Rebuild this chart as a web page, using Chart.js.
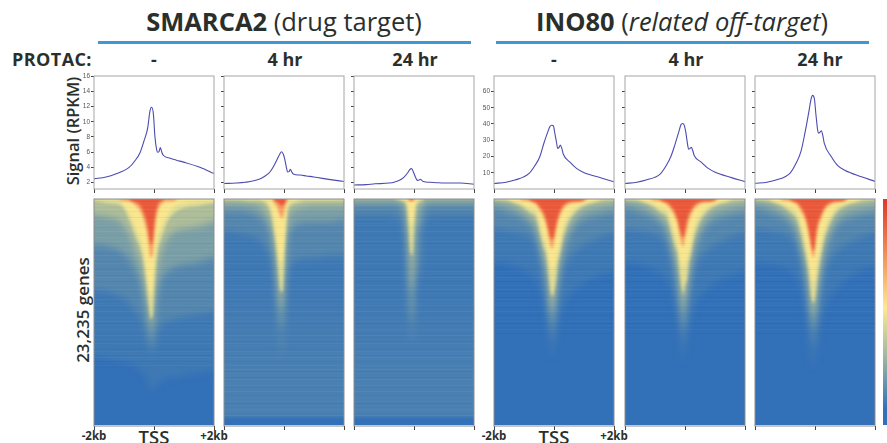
<!DOCTYPE html>
<html>
<head>
<meta charset="utf-8">
<script src="https://cdn.jsdelivr.net/npm/chart.js@4/dist/chart.umd.min.js"></script>
<style>
html, body { margin: 0; padding: 0; background: #fff; overflow: hidden; }
#page { position: relative; width: 887px; height: 443px; overflow: hidden; font-family: "Open Sans", sans-serif; color: #2b2f2c; }
#page canvas { position: absolute; }
.clip { position: absolute; overflow: hidden; }
.t { position: absolute; white-space: nowrap; transform: translate(-50%, -50%); }
.rule { position: absolute; top: 41px; height: 3px; background: #3f97d3; }
.head { font-size: 25.5px; font-weight: 400; }
.head b { font-weight: 700; }
.time { font-size: 18px; font-weight: 700; }
.side { font-size: 16.5px; font-weight: 600; transform: translate(-50%, -50%) rotate(-90deg); }
.genes { font-size: 17px; }
.kb { font-size: 11.5px; font-weight: 700; }
.tss { font-size: 18.5px; font-weight: 600; }
</style>
</head>
<body>
<div id="page">
  <div class="t head" style="left:284px;top:21px"><b>SMARCA2</b> <span>(drug target)</span></div>
  <div class="t head" style="left:682px;top:21px"><b>INO80</b> <span>(<i>related off-target</i>)</span></div>
  <div class="rule" style="left:98px;width:373px"></div>
  <div class="rule" style="left:496px;width:373px"></div>
  <div class="t time" style="left:52px;top:59px;letter-spacing:.4px">PROTAC:</div>
  <div class="t time" style="left:154px;top:59px">-</div>
  <div class="t time" style="left:285px;top:59px">4 hr</div>
  <div class="t time" style="left:415px;top:59px">24 hr</div>
  <div class="t time" style="left:554px;top:59px">-</div>
  <div class="t time" style="left:686px;top:59px">4 hr</div>
  <div class="t time" style="left:820px;top:59px">24 hr</div>
  <div class="t side" style="left:72px;top:131px">Signal (RPKM)</div>
  <div class="t side genes" style="left:82px;top:310px">23,235 genes</div>
  <div class="t kb" style="left:94px;top:435px">-2kb</div>
  <div class="t tss" style="left:154px;top:436px">TSS</div>
  <div class="t kb" style="left:214px;top:435px">+2kb</div>
  <div class="t kb" style="left:494px;top:435px">-2kb</div>
  <div class="t tss" style="left:554px;top:436px">TSS</div>
  <div class="t kb" style="left:614px;top:435px">+2kb</div>
</div>
<script>
// positions along the gene window, in bp from the TSS
const signalBins = [-2000,-1600,-1300,-830,-640,-470,-340,-210,-135,-80,-20,30,90,120,170,210,260,310,540,750,990,1550,2000];
const heatBins = [-2000,-1500,-1100,-800,-600,-450,-350,-250,-180,-110,-50,0,60,120,200,300,450,700,1000,1500,2000];
const edgeTicks = [-2000,0,2000];

// mean signal (RPKM)
const smarca2None = [2.5,2.75,3.1,4.0,4.85,5.9,7.4,9.2,11.4,11.9,11.0,8.1,6.3,6.0,6.1,6.6,6.0,5.6,5.2,4.95,4.7,4.0,3.2];
const smarca24hr = [1.9,1.95,2.05,2.45,2.85,3.4,4.2,5.2,5.8,6.05,5.7,5.0,3.8,3.4,3.45,3.75,3.4,3.15,3.0,2.88,2.75,2.4,2.15];
const smarca224hr = [1.7,1.75,1.85,1.95,2.1,2.35,2.7,3.3,3.75,3.85,3.4,2.9,2.4,2.3,2.35,2.45,2.3,2.15,2.05,2.0,1.95,1.95,1.8];
const ino80None = [3.4,4.2,5.5,9.6,14.3,20,28,35,38.4,39.2,38.8,34,28,25,25.6,27,25,21.4,16.4,12.7,10.2,6.9,4.4];
const ino804hr = [3.4,4.2,5.5,9.2,14,20,27,35,39.5,40.3,39,34.5,27,24.5,25,25.6,23.5,20.5,16.5,13,10.5,7,4.5];
const ino8024hr = [3.5,4.2,5.5,9.8,15.5,23,34,47,55,57.6,55.5,46,36,34.3,35,35.8,33,28,20,14.5,11.5,7.5,4.7];

const smarcaTicks = [2,4,6,8,10,12,14,16];
const inoTicks = [10,20,30,40,50,60];

// heatmap colour levels, weakest to strongest
const baseColor = '#3270b8';
const levelColors = ['#3f79b4','#5587ae','#7b9fa6','#aebd9a','#e0dc95','#f9e68f','#f5a063','#e95a3c'];

// how far down (% of the sorted genes) each colour level reaches at each heatBins position
const heatS0 = [
  [70,71,72,73,74,76,77,79,82,85,85,84,83,82,81,80,79,79,78,77,76],
  [40,41,43,46,50,53,56,60,64,68,68,66,62,58,56,55,54,53,52,51,50],
  [20,21,23,27,32,36,42,48,54,63,62,54,46,41,37,34,32,30,29,28,26],
  [7,8,10,16,23,28,34,43,50,57,56,47,36,30,25,21,17,14,13,12,10],
  [1,2,3,10,17,22,28,38,46,53,52,42,30,23,19,15,10,6,4,3,2],
  [0,0,1,7,13,18,24,32,38,42,40,33,24,17,14,11,7,3,2,1,1],
  [0,0,0.5,1,3,5.5,9,14,20,26,25,18,10,6,3,1.5,1,0.7,0,0,0],
  [0,0,0,0.5,1.5,3,6,10,15,20,19,13,6,3,1,0.5,0,0,0,0,0]
];
const heatS4 = [
  [110,110,110,110,110,110,110,110,110,110,110,110,110,110,110,110,110,110,110,110,110],
  [14,15,16,18,22,26,32,46,60,68,70,62,42,34,30,28,27,26,26,25,25],
  [5,5,6,8,11,15,22,35,50,56,56,44,25,17,14,12,11,10,10,10,9],
  [1.5,1.5,2,3,6,10,17,28,40,48,48,36,19,10,6,5,4,3.5,3,3,3],
  [0.5,0.5,1,1,2,6,13,23,33,41,41,30,15,6,3,2,1.5,1,1,1,1],
  [0,0,0,0.3,1,3,8,16,24,28,27,22,11,3,1,0.7,0.5,0,0,0,0],
  [0,0,0,0,0,0,1,3,5.5,8,8.5,6,2,0.5,0,0,0,0,0,0,0],
  [0,0,0,0,0,0,0.3,1,2,3,3,2.5,0.7,0,0,0,0,0,0,0,0]
];
const heatS24 = [
  [110,110,110,110,110,110,110,110,110,110,110,110,110,110,110,110,110,110,110,110,110],
  [7,7,7,7,8,9,13,22,48,62,64,56,38,32,34,12,8,7,7,7,7],
  [2,2,2,2,2,3,5,12,36,52,54,44,18,12,12,5,2,2,2,2,2],
  [1,1,1,1,1,1,2,7,22,38,40,28,10,5,3,2,1,1,1,1,1],
  [0,0,0,0,0.2,0.5,1,3,12,24,25,14,4,2,1,0.5,0,0,0,0,0],
  [0,0,0,0,0,0.3,0.8,1.5,5,11,11,7,2,0.5,0,0,0,0,0,0,0],
  [0,0,0,0,0,0,0,0,0.3,0.8,0.8,0.4,0,0,0,0,0,0,0,0,0],
  [0,0,0,0,0,0,0,0,0.2,0.4,0.4,0.2,0,0,0,0,0,0,0,0,0]
];
const heatI0 = [
  [28,29,31,33,36,40,46,52,60,68,70,68,62,56,52,48,44,40,37,34,32],
  [13,14,15,17,20,27,34,42,52,60,63,60,53,44,38,32,27,23,20,17,15],
  [4,6,8,11,15,23,30,36,46,54,56,53,46,38,31,24,18,12,9,7,6],
  [1,2,5,8,11,19,25,30,39,48,50,47,41,33,27,20,14,8,5,3,2],
  [0.5,1,3,6,8,16,21,25,33,41,43,41,36,29,24,17,11,6,3,1,0.5],
  [0,0.5,2,4,5,12,17,20,27,30,32,30,28,24,20,13,8,4,2,0.5,0],
  [0,0,0.3,1,2.5,5.5,8,12,17,21,22,19,15,11,7.5,4.5,2.5,1.5,0.7,0,0],
  [0,0,0,0.7,1.5,4,6,10,14,17,18,16,12,8.5,5.5,3,1.5,1,0.5,0,0]
];
const heatI4 = [
  [28,29,31,33,36,40,46,52,60,68,72,68,62,56,52,48,44,40,37,34,32],
  [13,14,15,17,20,27,34,42,52,60,64,60,53,44,38,32,27,23,20,17,15],
  [4,6,8,11,15,23,30,36,46,54,57,53,46,38,31,24,18,12,9,7,6],
  [1,2,5,8,11,18,24,29,38,46,50,45,41,33,27,20,14,8,5,3,2],
  [0.5,1,3,6,8,15,20,24,32,39,42,38,36,29,24,17,11,6,3,1,0.5],
  [0,0.5,2,4,5,11,15,19,26,29,31,28,28,24,20,13,8,4,2,0.5,0],
  [0,0,0.3,1,2.5,5,7.5,11,16,20,21,17,14,10,7,4.5,2.5,1.5,0.7,0,0],
  [0,0,0,0.7,1.5,3.5,5.5,9,13,16,17,14,10,7,5,3,1.5,1,0.5,0,0]
];
const heatI24 = [
  [28,29,30,32,35,40,47,54,64,72,74,71,66,58,54,50,45,40,36,32,30],
  [13,14,15,17,21,28,35,45,55,63,65,63,56,47,40,33,28,23,20,17,15],
  [4,6,8,11,16,24,31,39,48,56,58,56,49,41,33,25,19,12,9,7,6],
  [1,2,5,8,12,20,26,33,42,50,52,50,43,36,29,21,15,8,5,3,2],
  [0.5,1,3,6,9,16,22,29,36,44,46,44,37,31,25,18,12,6,3,1,0.5],
  [0,0.5,2,4,6,12,17,24,30,35,37,34,29,25,20,14,9,4,2,0.5,0],
  [0,0,0.3,1,2.5,6,8.5,13,18,24,26,23,16,12,9,5.5,3,1.5,0.7,0,0],
  [0,0,0,0.7,1.5,4,6.5,11,16,21,23,20,13,9.5,7,4,2,1,0.5,0,0]
];

// lighter lower stretch in the treated SMARCA2 maps, and the empty rows under it
const bandS4 = [34,34,34,34,34,34,34,34,34,34,34,34,34,34,34,34,34,34,34,34,34];
const bandS24 = [40,40,40,40,40,40,40,40,40,40,40,40,40,40,40,40,40,40,40,40,40];
const emptyRows = [96.7,96.7,96.7,96.7,96.7,96.7,96.7,96.7,96.7,96.7,96.7,96.7,96.7,96.7,96.7,96.7,96.7,96.7,96.7,96.7,96.7];

// row to row wobble of the sorted heatmaps, -3 darker to +3 lighter
const rowStreaks = [1,-2,0,2,-1,3,-2,1,0,-3,2,-1,1,2,-2,0,3,-1,-2,1,0,2,-3,1,-1,2,0,-2,3,-1,1,-2,2,0,-1,-3,2,1,-2,3];

const barStops = [0, 0.25, 0.48, 0.7, 0.93];
const barColors = ['#d93a2b', '#f0915a', '#fde98f', '#9db8a0', '#3270b8'];

const boxPlugin = {
  id: 'box',
  afterDraw(chart, args, opts) {
    const a = chart.chartArea;
    chart.ctx.strokeStyle = opts.color;
    chart.ctx.lineWidth = 1;
    chart.ctx.strokeRect(a.left, a.top, a.width, a.height);
  }
};

function addCanvas(parent, left, top, width, height) {
  const c = document.createElement('canvas');
  c.width = width;
  c.height = height;
  c.style.left = left + 'px';
  c.style.top = top + 'px';
  parent.appendChild(c);
  return c;
}

function xAxis() {
  return {
    type: 'linear', min: -2000, max: 2000,
    afterBuildTicks: s => { s.ticks = edgeTicks.map(v => ({ value: v })); },
    afterFit: s => { s.height = 5; },
    ticks: { display: false },
    border: { display: false },
    grid: { drawOnChartArea: false, tickLength: 4, color: '#444' }
  };
}

function drawSignal(left, values, yMin, yMax, yTicks, showLabels) {
  const canvas = addCanvas(document.getElementById('page'), left - 22, 70, 148, 124);
  new Chart(canvas, {
    type: 'line',
    data: {
      datasets: [{
        data: signalBins.map((x, i) => ({ x: x, y: values[i] })),
        borderColor: '#4b4bb0',
        borderWidth: 1.1,
        pointRadius: 0,
        cubicInterpolationMode: 'monotone'
      }]
    },
    options: {
      responsive: false,
      animation: false,
      layout: { padding: { top: 6, right: 6 } },
      plugins: { legend: { display: false }, tooltip: { enabled: false }, box: { color: '#a6a6a6' } },
      scales: {
        x: xAxis(),
        y: {
          min: yMin, max: yMax,
          afterBuildTicks: s => { s.ticks = yTicks.map(v => ({ value: v })); },
          afterFit: s => { s.width = 22; },
          ticks: {
            padding: 1,
            color: '#555',
            font: { family: 'Liberation Sans', size: 6.5 },
            callback: v => (showLabels ? v : '')
          },
          border: { display: false },
          grid: { drawOnChartArea: false, tickLength: 3, color: '#444' }
        }
      }
    },
    plugins: [boxPlugin]
  });
}

// runs a little past the map on every side so the soft edge stays out of sight
function heatPoints(depth) {
  const pts = heatBins.map((x, k) => ({ x: x, y: depth[k] > 0 ? depth[k] : -10 }));
  pts.unshift({ x: -2400, y: pts[0].y });
  pts.push({ x: 2400, y: pts[pts.length - 1].y });
  return pts;
}

function heatLayer(clip, sets, blur) {
  const canvas = addCanvas(clip, -12, -18, 144, 262);
  canvas.style.filter = 'blur(' + blur + 'px)';
  new Chart(canvas, {
    type: 'line',
    data: { datasets: sets.reverse() },
    options: {
      responsive: false,
      animation: false,
      datasets: { line: { borderWidth: 0, pointRadius: 0, cubicInterpolationMode: 'monotone' } },
      plugins: { legend: { display: false }, tooltip: { enabled: false } },
      scales: {
        x: { type: 'linear', display: false, min: -2400, max: 2400 },
        y: { display: false, min: -8, max: 108, reverse: true }
      }
    }
  });
}

function drawHeat(left, levels, streakUntil, band) {
  const clip = document.createElement('div');
  clip.className = 'clip';
  clip.style.cssText = 'left:' + left + 'px;top:199px;width:120px;height:226px;background:' + baseColor;
  document.getElementById('page').appendChild(clip);

  const level = i => ({
    data: heatPoints(levels[i]),
    backgroundColor: levelColors[i],
    fill: { value: -10 }
  });

  const outer = [level(0)];
  if (band) {
    outer.push({
      data: heatPoints(band),
      fill: { value: 108 },
      backgroundColor: ctx => {
        const y = ctx.chart.scales.y;
        const y0 = y ? y.getPixelForValue(band[0]) : NaN;
        const y1 = y ? y.getPixelForValue(80) : NaN;
        if (!Number.isFinite(y0) || !Number.isFinite(y1)) return levelColors[0];
        const g = ctx.chart.ctx.createLinearGradient(0, y0, 0, y1);
        g.addColorStop(0, levelColors[0]);
        g.addColorStop(1, '#4a80b2');
        return g;
      }
    });
  }
  outer.push(level(1), level(2), level(3));
  heatLayer(clip, outer, 3.5);

  const inner = [];
  if (band) {
    inner.push({ data: heatPoints(emptyRows), backgroundColor: baseColor, fill: { value: 108 } });
  }
  inner.push(level(4), level(5), level(6), level(7));
  heatLayer(clip, inner, 1.4);

  // ticks, frame and the thin row streaks sit on top of the soft layers
  const rows = [];
  for (let i = 0; i < 113; i++) rows.push(i * 100 / 113);
  const frame = addCanvas(document.getElementById('page'), left - 6, 193, 132, 238);
  new Chart(frame, {
    type: 'line',
    data: { datasets: [] },
    options: {
      responsive: false,
      animation: false,
      layout: { padding: { top: 6, right: 6, left: 6 } },
      plugins: { legend: { display: false }, tooltip: { enabled: false }, box: { color: '#8c8c8c' } },
      scales: {
        x: xAxis(),
        y: {
          min: 0, max: 100, reverse: true,
          afterBuildTicks: s => { s.ticks = rows.map(v => ({ value: v })); },
          afterFit: s => { s.width = 0; },
          ticks: { display: false },
          border: { display: false },
          grid: {
            drawTicks: false,
            color: ctx => {
              const v = rowStreaks[ctx.index % rowStreaks.length];
              const depth = rows[ctx.index];
              if (depth > streakUntil || v === 0) return 'rgba(0,0,0,0)';
              const a = Math.abs(v) * 0.016;
              return v > 0 ? 'rgba(255,255,255,' + a + ')' : 'rgba(0,0,40,' + a + ')';
            }
          }
        }
      }
    },
    plugins: [boxPlugin]
  });
}

function drawColorBar() {
  const canvas = addCanvas(document.getElementById('page'), 883, 199, 10, 226);
  new Chart(canvas, {
    type: 'bar',
    data: {
      labels: [''],
      datasets: [{
        data: [1],
        barPercentage: 1,
        categoryPercentage: 1,
        backgroundColor: ctx => {
          const a = ctx.chart.chartArea;
          if (!a) return baseColor;
          const g = ctx.chart.ctx.createLinearGradient(0, a.top, 0, a.bottom);
          barStops.forEach((s, i) => g.addColorStop(s, barColors[i]));
          return g;
        }
      }]
    },
    options: {
      responsive: false,
      animation: false,
      plugins: { legend: { display: false }, tooltip: { enabled: false } },
      scales: { x: { display: false }, y: { display: false, min: 0, max: 1 } }
    }
  });
}

drawSignal(94, smarca2None, 1.17, 16, smarcaTicks, true);
drawSignal(224, smarca24hr, 1.17, 16, smarcaTicks, false);
drawSignal(354, smarca224hr, 1.17, 16, smarcaTicks, false);
drawSignal(494, ino80None, 0, 69.5, inoTicks, true);
drawSignal(625, ino804hr, 0, 69.5, inoTicks, false);
drawSignal(755, ino8024hr, 0, 69.5, inoTicks, false);

drawHeat(94, heatS0, 75);
drawHeat(224, heatS4, 97, bandS4);
drawHeat(354, heatS24, 97, bandS24);
drawHeat(494, heatI0, 60);
drawHeat(625, heatI4, 60);
drawHeat(755, heatI24, 60);

drawColorBar();
</script>
</body>
</html>
